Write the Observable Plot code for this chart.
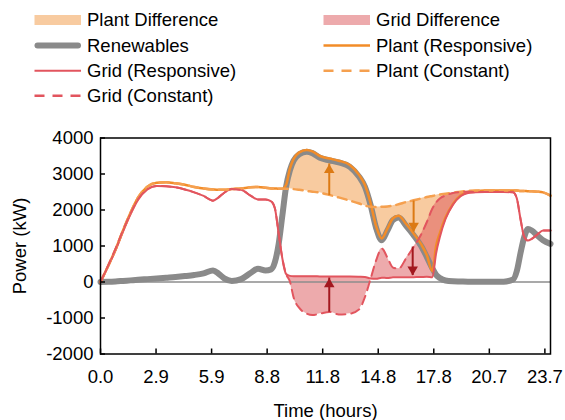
<!DOCTYPE html>
<html><head><meta charset="utf-8">
<script src="https://cdn.jsdelivr.net/npm/d3@7"></script>
<script src="https://cdn.jsdelivr.net/npm/@observablehq/plot@0.6"></script>
<style>
body{margin:0;background:#fff;font-family:"Liberation Sans",Arial,sans-serif;}
#legend svg,#chart svg{display:block}
</style></head><body>
<div id="legend"></div><div id="chart"></div>
<script>
// ---- data ----
const hours            = [0,0.4,0.8,1.2,1.6,2.0,2.5,3.0,3.5,4.0,4.5,5.0,5.5,6.0,6.3,6.6,7.0,7.5,8.0,8.4,8.8,9.1,9.3,9.5,9.7,9.9,10.1,10.3,10.6,11.0,11.3,11.7,12.2,12.7,13.3,13.8,14.1,14.4,14.7,15.0,15.3,15.6,15.9,16.3,16.7,17.1,17.4,17.7,17.9,18.1,18.4,18.8,19.2,19.6,20.0,20.5,21.0,21.5,22.0,22.2,22.4,22.6,22.8,23.0,23.3,23.6,24.0];
const renewables       = [0,5,15,30,45,60,80,100,120,140,165,195,240,320,230,100,30,80,250,370,320,350,550,1050,1850,2650,3100,3370,3550,3620,3580,3450,3380,3320,3200,2920,2650,2150,1500,1160,1430,1720,1790,1560,1300,1000,700,380,200,110,40,20,15,10,10,10,10,10,70,300,800,1250,1470,1430,1290,1160,1060];
const plantResponsive  = [0,440,900,1430,1920,2340,2650,2760,2770,2740,2700,2640,2600,2570,2560,2560,2580,2600,2630,2640,2620,2600,2600,2590,2590,2700,3150,3420,3600,3670,3630,3500,3430,3370,3250,2970,2700,2200,1550,1210,1480,1770,1840,1610,1350,1050,750,300,1000,1360,1790,2170,2400,2500,2530,2540,2540,2540,2540,2540,2530,2530,2520,2520,2510,2490,2400];
const plantConstant    = [0,440,900,1430,1920,2340,2650,2760,2770,2740,2700,2640,2600,2570,2560,2560,2580,2600,2630,2640,2620,2600,2600,2590,2590,2590,2590,2580,2560,2530,2510,2480,2420,2350,2260,2180,2120,2090,2080,2090,2100,2120,2160,2220,2270,2320,2360,2390,2410,2430,2450,2480,2510,2530,2540,2540,2540,2540,2540,2540,2530,2530,2520,2520,2510,2490,2400];
const gridResponsive   = [0,430,880,1400,1880,2280,2570,2670,2660,2630,2570,2490,2390,2260,2350,2480,2580,2560,2400,2290,2290,2240,2050,1350,650,220,170,160,160,160,160,155,150,150,150,145,140,100,90,120,110,130,130,130,135,140,145,130,800,1250,1750,2150,2380,2470,2490,2500,2500,2500,2490,2330,1750,1250,1150,1200,1320,1430,1430];
const gridConstant     = [0,450,920,1430,1900,2300,2580,2670,2660,2630,2570,2490,2390,2260,2350,2480,2580,2560,2400,2290,2290,2240,2050,1350,650,220,20,-430,-720,-880,-920,-880,-830,-900,-880,-760,-420,80,600,930,680,400,370,660,970,1320,1660,2040,2210,2320,2400,2470,2500,2510,2500,2500,2500,2500,2490,2330,1750,1250,1150,1200,1320,1430,1430];
const xTickValues = [0,2.9625,5.925,8.8875,11.85,14.8125,17.775,20.7375,23.7];
const xTickLabels = ["0.0","2.9","5.9","8.8","11.8","14.8","17.8","20.7","23.7"];
const yTickValues = [-2000,-1000,0,1000,2000,3000,4000];
const arrowHours  = [12.2,16.7,12.2,16.65];
const arrowFrom   = [2400,2250,-840,970];
const arrowTo     = [3280,1390,110,180];
const arrowSeries = ["plant","plant","grid","grid"];
const legendLabels = ["Plant Difference","Grid Difference","Renewables","Plant (Responsive)","Grid (Responsive)","Plant (Constant)","Grid (Constant)"];

// ---- styles ----
const C = {
  plantFill:"#F8CBA0", gridFill:"rgb(219,85,89)", gridFillOpacity:0.5,
  renew:"#8a8a8a", plant:"#F28C28", plantC:"#F5A04F", grid:"#E2555E",
  plantArrow:"#DC7A14", gridArrow:"#A3181F"
};
const FONT = "Liberation Sans, Arial, sans-serif";
const FS = 18.5;

// ---- legend ----
const legendStyles = {
  "Plant Difference":{type:"rect",fill:C.plantFill},
  "Grid Difference":{type:"rect",fill:C.gridFill,opacity:C.gridFillOpacity},
  "Renewables":{type:"line",stroke:C.renew,width:6,cap:"round"},
  "Plant (Responsive)":{type:"line",stroke:C.plant,width:2.5},
  "Grid (Responsive)":{type:"line",stroke:C.grid,width:2},
  "Plant (Constant)":{type:"line",stroke:C.plantC,width:2.5,dash:"10,8"},
  "Grid (Constant)":{type:"line",stroke:C.grid,width:2.5,dash:"10,8"}
};
const legendH = 110;
const lsvg = d3.select("#legend").append("svg").attr("width",565).attr("height",legendH);
const colX = [34.5,323.5], rowY = [20,45.6,70.7,95.7], swW = 46.5;
legendLabels.forEach((lab,i)=>{
  const x = colX[i%2], y = rowY[Math.floor(i/2)], s = legendStyles[lab];
  const g = lsvg.append("g");
  if (s.type==="rect") {
    g.append("rect").attr("x",x).attr("y",y-5).attr("width",swW).attr("height",10)
      .attr("fill",s.fill).attr("fill-opacity",s.opacity||1);
  } else {
    const inset = s.cap ? 3 : 0;
    g.append("line").attr("x1",x+inset).attr("x2",x+swW-inset).attr("y1",y).attr("y2",y)
      .attr("stroke",s.stroke).attr("stroke-width",s.width)
      .attr("stroke-linecap",s.cap||"butt").attr("stroke-dasharray",s.dash||null);
  }
  g.append("text").attr("x",x+swW+6).attr("y",y).attr("dy","0.35em")
    .attr("font-family",FONT).attr("font-size",FS).attr("fill","#000").text(lab);
});

// ---- chart ----
const W = 565, H = 420 - legendH;
const mLeft = 100, mRight = 15, mTop = 137.5 - legendH, mBottom = 420 - 353.5;
const innerH = H - mTop - mBottom, innerW = W - mLeft - mRight;
const rows = hours.map((t,i)=>({t,R:renewables[i],PR:plantResponsive[i],PC:plantConstant[i],GR:gridResponsive[i],GC:gridConstant[i]}));
const diffRows = rows.filter(d=>d.t>=9.7 && d.t<=20);
const arrows = arrowHours.map((t,i)=>({t,from:arrowFrom[i],to:arrowTo[i],kind:arrowSeries[i]}));
const r = 3.9, tip = 2*Math.sqrt(Math.PI*r*r/(3*Math.sqrt(3)));
const curve = "monotone-x";
const arrowMarks = [];
for (const kind of ["plant","grid"]) {
  const col = kind==="plant" ? C.plantArrow : C.gridArrow;
  const a = arrows.filter(d=>d.kind===kind);
  arrowMarks.push(Plot.ruleX(a,{x:"t",y1:"from",y2:"to",stroke:col,strokeWidth:2}));
  arrowMarks.push(Plot.dot(a.filter(d=>d.to>d.from),{x:"t",y:"to",symbol:"triangle",r,fill:col,stroke:null,dy:tip}));
  arrowMarks.push(Plot.dot(a.filter(d=>d.to<d.from),{x:"t",y:"to",symbol:"triangle",r,fill:col,stroke:null,rotate:180,dy:-tip}));
}
const chart = Plot.plot({
  width: W, height: H, marginLeft: mLeft, marginRight: mRight, marginTop: mTop, marginBottom: mBottom,
  style: {fontFamily: FONT, fontSize: FS+"px", color:"#000", background:"transparent", overflow:"visible"},
  x: {domain:[0,24]},
  y: {domain:[-2000,4000]},
  marks: [
    Plot.areaY(diffRows,{x:"t",y1:"PC",y2:"PR",fill:C.plantFill,curve}),
    Plot.areaY(diffRows,{x:"t",y1:"GC",y2:"GR",fill:C.gridFill,fillOpacity:C.gridFillOpacity,curve}),
    Plot.ruleY([0],{stroke:"#8c8c8c",strokeWidth:1.5}),
    Plot.lineY(rows,{x:"t",y:"R",stroke:C.renew,strokeWidth:6,curve}),
    Plot.lineY(rows,{x:"t",y:"PR",stroke:C.plant,strokeWidth:2.5,curve}),
    Plot.lineY(rows,{x:"t",y:"GR",stroke:C.grid,strokeWidth:2,curve}),
    Plot.lineY(rows,{x:"t",y:"PC",stroke:C.plantC,strokeWidth:2.5,strokeDasharray:"9,6",curve}),
    Plot.lineY(rows,{x:"t",y:"GC",stroke:C.grid,strokeWidth:2,strokeDasharray:"9,6",curve}),
    ...arrowMarks,
    Plot.frame({stroke:"#000",strokeWidth:1.5}),
    Plot.ruleX(xTickValues,{insetTop:innerH-5,stroke:"#000",strokeWidth:1.5}),
    Plot.ruleY(yTickValues,{insetRight:innerW-5,stroke:"#000",strokeWidth:1.5}),
    Plot.axisX(xTickValues,{tickSize:0,tickPadding:16,tickFormat:d=>xTickLabels[xTickValues.indexOf(d)],label:null,fontSize:FS}),
    Plot.axisY(yTickValues,{tickSize:0,tickPadding:7,tickFormat:d=>String(d),label:null,fontSize:FS}),
    Plot.text(["Power (kW)"],{frameAnchor:"left",dx:-80,rotate:-90,textAnchor:"middle",lineAnchor:"middle",fontSize:FS}),
    Plot.text(["Time (hours)"],{frameAnchor:"bottom",dy:57,textAnchor:"middle",lineAnchor:"middle",fontSize:FS})
  ]
});
document.getElementById("chart").appendChild(chart);
</script>
</body></html>
